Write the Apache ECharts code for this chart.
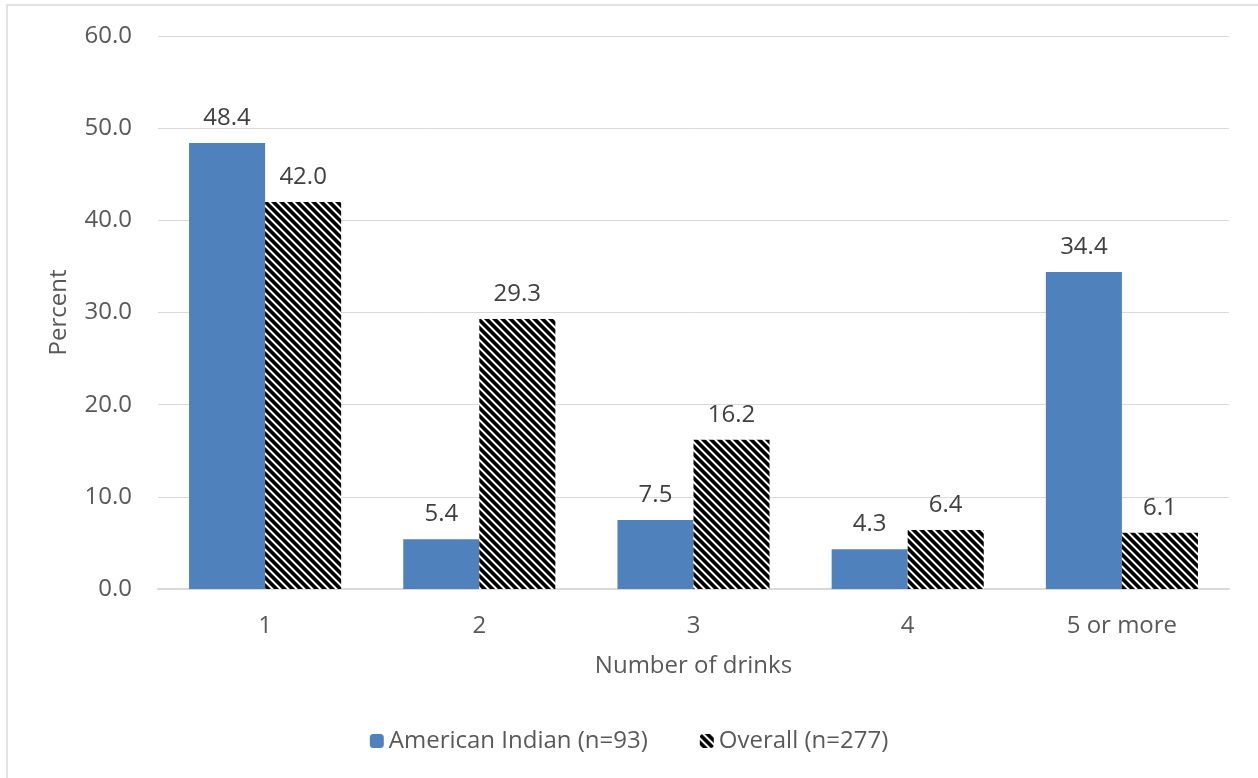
<!DOCTYPE html>
<html><head><meta charset="utf-8">
<script src="https://cdn.jsdelivr.net/npm/echarts@6/dist/echarts.min.js"></script>
<style>html,body{margin:0;padding:0;background:#fff}#c{width:1258px;height:778px}</style>
</head><body><div id="c"></div>
<script>
const categories = ['1', '2', '3', '4', '5 or more'];
const americanIndian = [48.4, 5.4, 7.5, 4.3, 34.4];
const overall = [42.0, 29.3, 16.2, 6.4, 6.1];
const seriesNames = ['American Indian (n=93)', 'Overall (n=277)'];

function makeHatch() {
  const n = 8;
  const cv = document.createElement('canvas');
  cv.width = n; cv.height = n;
  const ctx = cv.getContext('2d');
  const img = ctx.createImageData(n, n);
  for (let y = 0; y < n; y++) {
    for (let x = 0; x < n; x++) {
      let t = (((x - y) % n) + n) % n + 0.5;
      let phase = t / n;
      let w = Math.min(1, Math.max(0, (Math.abs(phase - 0.5) * 4 - 0.7) * 1.5 + 0.5));
      let v = Math.round(255 * (1 - w));
      const i = (y * n + x) * 4;
      img.data[i] = v; img.data[i + 1] = v; img.data[i + 2] = v; img.data[i + 3] = 255;
    }
  }
  ctx.putImageData(img, 0, 0);
  return cv;
}
const hatch = { image: makeHatch(), repeat: 'repeat' };

const chart = echarts.init(document.getElementById('c'), null, { renderer: 'canvas' });
const font = '"Open Sans", "Noto Sans", sans-serif';
const fs = 24;
const labelStyle = { show: true, position: 'top', distance: 13, color: '#404040', fontSize: fs, fontFamily: font, formatter: p => p.value.toFixed(1) };
chart.setOption({
  animation: false,
  textStyle: { fontFamily: font },
  graphic: [{ type: 'rect', shape: { x: 7, y: 5, width: 1400, height: 1400 }, style: { fill: 'none', stroke: '#d9d9d9', lineWidth: 1.5 }, silent: true }],
  grid: { left: 158, right: 29, top: 36, bottom: 189 },
  legend: {
    top: 724, left: 'center', itemWidth: 14, itemHeight: 14, itemGap: 52,
    textStyle: { color: '#595959', fontSize: fs, fontFamily: font },
    data: seriesNames
  },
  xAxis: {
    type: 'category', data: categories,
    name: 'Number of drinks', nameLocation: 'middle', nameGap: 65,
    nameTextStyle: { color: '#595959', fontSize: fs, fontFamily: font },
    axisLine: { lineStyle: { color: '#d9d9d9', width: 2 } },
    axisTick: { show: false },
    axisLabel: { color: '#595959', fontSize: fs, margin: 25, fontFamily: font }
  },
  yAxis: {
    type: 'value', min: 0, max: 60, interval: 10,
    name: 'Percent', nameLocation: 'middle', nameGap: 87, nameRotate: 90,
    nameTextStyle: { color: '#595959', fontSize: fs, fontFamily: font },
    axisLine: { show: false }, axisTick: { show: false },
    axisLabel: { color: '#595959', fontSize: fs, margin: 26, fontFamily: font, formatter: v => v.toFixed(1) },
    splitLine: { lineStyle: { color: '#d9d9d9', width: 1 } }
  },
  series: [
    { name: seriesNames[0], type: 'bar', data: americanIndian, barGap: '0%', barCategoryGap: '29%',
      itemStyle: { color: '#4f81bd' }, label: labelStyle },
    { name: seriesNames[1], type: 'bar', data: overall, barGap: '0%', barCategoryGap: '29%',
      itemStyle: { color: hatch }, label: labelStyle }
  ]
});
</script></body></html>
